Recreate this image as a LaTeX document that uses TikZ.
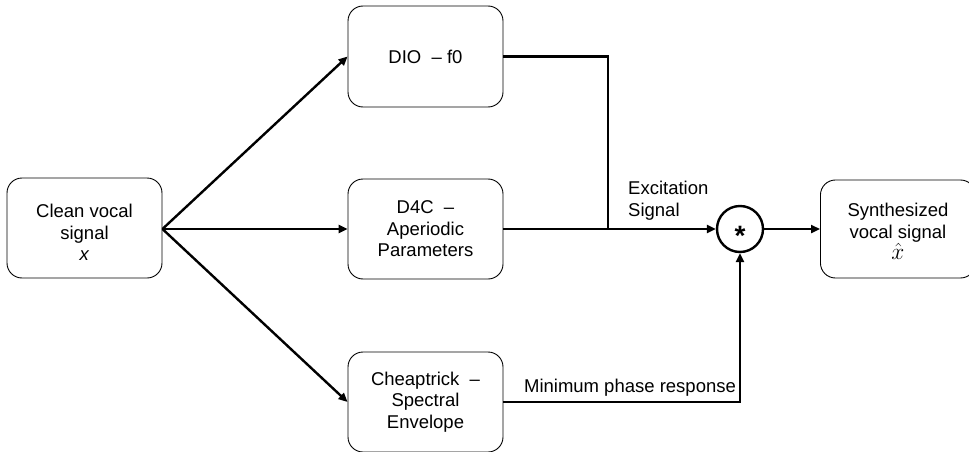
\documentclass[tikz,border=0pt]{standalone}
\usepackage{fontspec}
\setmainfont{Liberation Sans}
\usetikzlibrary{arrows.meta}
\newcommand{\toppad}[1]{\rule{0pt}{#1}}
\begin{document}
\begin{tikzpicture}[x=1pt,y=-1pt,
  blockbox/.style={draw=black, line width=0.9pt, rounded corners=15pt,
    minimum width=155pt, minimum height=100pt, align=center,
    font=\fontsize{18.5}{21.5}\selectfont},
  conv/.style={draw=black, line width=2.4pt, circle, minimum size=46pt, inner sep=0pt,
    font=\fontsize{28}{28}\selectfont\bfseries},
  wire/.style={line width=2.4pt},
  flow/.style={wire, -{Triangle[length=9pt,width=8pt]}},
  lbl/.style={font=\fontsize{18.5}{22}\selectfont, inner sep=0pt}]
\useasboundingbox (0,0) rectangle (969,452);

% processing blocks
\node[blockbox] (clean) at (84.5,228) {\toppad{22pt}Clean vocal\\signal\\\textit{x}};
\node[blockbox, minimum height=101pt] (dio) at (425.5,56.5) {DIO\ \ -- f0};
\node[blockbox] (d4c)   at (425.5,229) {D4C\ \ --\\Aperiodic\\Parameters};
\node[blockbox] (cheap) at (425.5,402) {Cheaptrick\ \ --\\Spectral\\Envelope};
\node[blockbox, minimum height=98pt, anchor=west] (synth) at (820,229)
  {\toppad{18pt}Synthesized\\vocal signal\\\scalebox{1.35}{$\hat{x}$}};

% convolution
\node[conv] (mult) at (740,229) {\smash{\raisebox{-0.58em}{*}}};
\coordinate (join) at (608,229);

% analysis fan-out
\draw[flow] (clean.east |- d4c) -- (dio.west);
\draw[flow] (clean.east |- d4c) -- (d4c.west);
\draw[flow] (clean.east |- d4c) -- (cheap.west);

% synthesis path
\draw[wire] (dio.east) -| (join);
\draw[flow] (d4c.east) -- (mult.west);
\draw[flow] (cheap.east) -| (mult.south);
\draw[flow] (mult.east) -- (mult.east -| synth.west);

% labels
\node[lbl, anchor=north west, align=left] (exc) at (628,181) {Excitation\\Signal};
\node[lbl, anchor=base] (minph) at (630,392) {Minimum phase response};
\end{tikzpicture}
\end{document}
